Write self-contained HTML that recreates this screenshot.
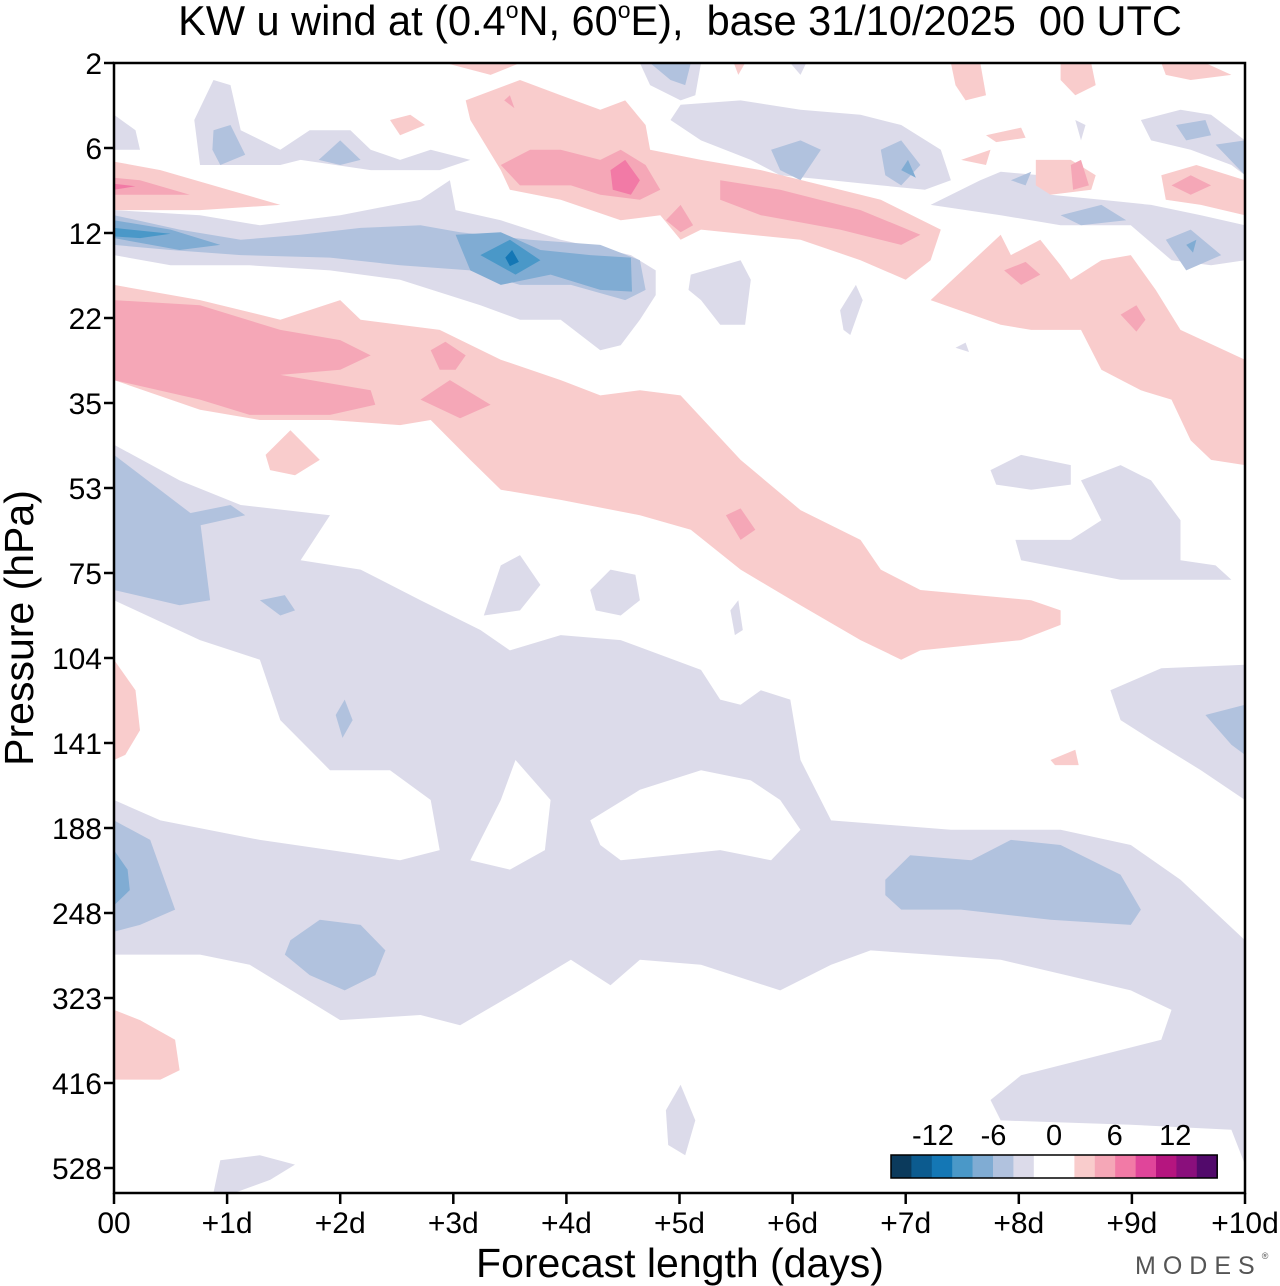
<!DOCTYPE html>
<html><head><meta charset="utf-8"><title>KW u wind</title>
<style>
html,body{margin:0;padding:0;background:#fff;}
svg{display:block;}
text{font-family:"Liberation Sans",Arial,sans-serif;}
</style></head>
<body>
<svg id="chart" width="1280" height="1286" viewBox="0 0 1280 1286" xmlns="http://www.w3.org/2000/svg">
<text x="680" y="35" font-size="41.5" text-anchor="middle" xml:space="preserve">KW u wind at (0.4<tspan font-size="23" dy="-17">o</tspan><tspan dy="17">N, 60</tspan><tspan font-size="23" dy="-17">o</tspan><tspan dy="17">E),  base 31/10/2025  00 UTC</tspan></text>
<g id="contours"></g>
<rect x="114" y="63" width="1131" height="1130" fill="none" stroke="#000" stroke-width="2.5"/>
<g id="yaxis"></g>
<g id="xaxis"></g>
<text transform="translate(33,628) rotate(-90)" font-size="41" text-anchor="middle">Pressure (hPa)</text>
<text x="680" y="1277" font-size="41" text-anchor="middle">Forecast length (days)</text>
<g id="cbar"></g>
<text x="1135" y="1274" font-size="25" fill="#555" letter-spacing="7">MODES<tspan font-size="9" dy="-15">®</tspan></text>
</svg>
<script>
// Axis data
const pressureTicks = ["2","6","12","22","35","53","75","104","141","188","248","323","416","528"];
const dayTicks = ["00","+1d","+2d","+3d","+4d","+5d","+6d","+7d","+8d","+9d","+10d"];
// Contour levels and colours
const cbarLabels = ["-12","-6","0","6","12"];
const cbarLabelValues = [-12,-6,0,6,12];
const cbarNegColors = ["#0b3a5c","#0c5b8f","#1477b5","#4a98c8","#80acd3","#b1c2de","#dcdbea"];
const cbarPosColors = ["#f9cccc","#f5a7b7","#f27aa6","#e0459a","#b5157f","#8a0f7c","#520a6b"];
// Contour polygons in data units: [day, pressure-level-index, ...]
const lev_m3 = [
 [0,4.49,.58,4.91,1.12,5.2,1.91,5.32,1.65,5.85,2.18,5.96,2.71,6.32,3.24,6.67,3.5,6.91,3.95,6.73,4.48,6.79,5.19,7.14,5.36,7.49,5.54,7.55,5.72,7.38,5.98,7.49,6.07,8.2,6.34,8.91,7.4,9.02,8.37,9.02,8.99,9.2,9.43,9.61,10,10.32,10,12.96,9.88,12.55,8.99,12.49,7.84,12.44,7.75,12.2,8.02,11.91,9.26,11.49,9.35,11.14,8.99,10.91,7.84,10.55,7.22,10.49,6.69,10.44,6.34,10.61,5.89,10.91,5.19,10.61,4.65,10.55,4.39,10.85,4.04,10.55,3.59,10.91,3.06,11.32,2.71,11.2,2,11.26,1.2,10.61,.76,10.49,0,10.49],
 [3.27,6.5,3.42,5.91,3.59,5.79,3.77,6.14,3.59,6.44],
 [4.21,6.2,4.39,5.96,4.61,6.02,4.65,6.32,4.48,6.5,4.26,6.44],
 [5.45,6.44,5.52,6.32,5.56,6.67,5.49,6.73],
 [7.75,4.79,8.02,4.61,8.46,4.73,8.46,4.96,8.11,5.02,7.8,4.96],
 [8.55,4.91,8.9,4.73,9.17,4.91,9.43,5.38,9.43,5.85,9.74,5.91,9.88,6.08,8.9,6.08,8.02,5.85,7.97,5.61,8.46,5.61,8.73,5.38,8.64,5.14],
 [8.81,7.38,9.26,7.12,10,7.08,10,8.67,9.61,8.32,9.17,7.96,8.9,7.73],
 [4.88,12.32,5.01,12.02,5.14,12.44,5.05,12.85,4.9,12.73],
 [.88,13.29,.94,12.91,1.29,12.85,1.6,12.96,1.38,13.14,1.07,13.29],
 [.71,.67,.88,.2,1.03,.26,1.12,.79,1.47,1.02,1.73,.79,2.09,.79,2.27,1.02,2.53,1.14,2.8,1.02,3.15,1.14,2.88,1.26,2.27,1.26,1.65,1.14,1.47,1.2,.76,1.2],
 [0,.61,.19,.79,.23,1.02,0,1.02],
 [4.92,.67,5.01,.49,5.54,.44,6.07,.55,6.6,.61,6.96,.73,7.31,1.02,7.4,1.38,7.17,1.49,6.78,1.44,6.34,1.38,5.89,1.32,5.63,1.14,5.19,.91],
 [4.65,0,5.19,0,5.14,.38,5.01,.44,4.74,.26],
 [7.22,1.67,7.66,1.38,7.84,1.28,8.19,1.32,8.28,1.55,8.73,1.61,9.17,1.67,9.61,1.79,10,1.91,10,2.32,9.7,2.38,9.35,2.32,8.99,1.91,8.37,1.91,7.84,1.79],
 [9.08,.67,9.43,.55,9.7,.61,10,.91,10,1.32,9.88,1.2,9.52,1.02,9.17,.91],
 [8.5,.67,8.59,.73,8.55,.91],
 [5.98,0,6.12,0,6.07,.14],
 [0,1.73,.76,1.79,1.29,1.91,2,1.79,2.71,1.61,2.97,1.38,3.02,1.73,3.42,1.85,3.95,2.08,4.57,2.26,4.79,2.44,4.79,2.73,4.65,3.02,4.48,3.32,4.3,3.38,3.95,3.02,3.59,3.02,3.24,2.85,2.53,2.55,1.91,2.44,1.2,2.38,.5,2.38,0,2.26],
 [5.08,2.67,5.1,2.49,5.54,2.32,5.63,2.55,5.58,3.08,5.36,3.08,5.19,2.79],
 [6.42,2.91,6.56,2.61,6.62,2.79,6.51,3.2,6.45,3.14],
 [7.44,3.35,7.53,3.29,7.56,3.4]
];
const lev_zeroHoles = [
 [0,6.32,.76,6.79,1.29,7.02,1.47,7.73,1.91,8.32,2.44,8.32,2.8,8.67,2.88,9.26,2.53,9.38,1.29,9.14,.41,8.91,0,8.67],
 [3.15,9.38,3.42,8.67,3.55,8.2,3.86,8.67,3.81,9.26,3.5,9.49],
 [4.21,8.91,4.65,8.55,5.19,8.32,5.63,8.44,5.89,8.67,6.07,9.02,5.81,9.38,5.36,9.26,4.48,9.38,4.3,9.2]
];
const lev_m6 = [
 [0,4.61,.76,5.38,.85,6.32,.58,6.38,0,6.2],
 [.58,5.32,1.03,5.2,1.16,5.32,.76,5.44],
 [1.29,6.32,1.51,6.26,1.6,6.44,1.47,6.5],
 [1.96,7.67,2.04,7.49,2.11,7.73,2.02,7.94],
 [0,8.91,.32,9.14,.54,9.96,.23,10.14,0,10.22],
 [1.56,10.32,1.82,10.08,2.18,10.14,2.4,10.44,2.31,10.73,2.04,10.91,1.73,10.73,1.51,10.49],
 [6.82,9.61,7.04,9.32,7.58,9.38,7.93,9.14,8.37,9.2,8.9,9.55,9.08,9.96,8.99,10.14,8.28,10.08,7.49,9.96,6.96,9.96,6.82,9.79],
 [9.65,7.67,10,7.55,10,8.14,9.88,8.02],
 [.88,.79,1.03,.73,1.16,1.08,.94,1.2,.87,1.02],
 [1.81,1.14,2,.91,2.18,1.14,2,1.2],
 [5.81,1.02,6.07,.91,6.25,1.02,6.07,1.38,5.89,1.26],
 [6.78,1.02,6.96,.91,7.13,1.2,6.96,1.44,6.82,1.32],
 [9.39,.73,9.65,.67,9.7,.85,9.48,.91],
 [9.74,.96,10,.91,10,1.32],
 [9.3,2.08,9.52,1.96,9.79,2.26,9.48,2.44],
 [7.93,1.38,8.11,1.28,8.06,1.44],
 [8.37,1.79,8.73,1.67,8.95,1.85,8.55,1.91],
 [4.74,0,5.1,0,5.05,.26,4.92,.2],
 [0,1.79,.58,1.96,1.12,2.08,1.65,2.02,2.18,1.94,2.71,1.91,3.06,1.99,3.68,2.08,4.3,2.14,4.65,2.32,4.7,2.67,4.52,2.79,4.04,2.61,3.59,2.61,3.15,2.44,2.53,2.38,1.91,2.29,1.12,2.26,.5,2.2,0,2.14]
];
const lev_m9 = [
 [0,1.85,.5,1.96,.94,2.14,.58,2.2,0,2.06],
 [3.15,2.44,3.02,2.02,3.42,1.99,3.77,2.2,4.21,2.26,4.57,2.29,4.58,2.69,4.3,2.67,3.86,2.49,3.42,2.61],
 [0,9.26,.12,9.49,.14,9.73,0,9.91],
 [9.48,2.14,9.57,2.08,9.54,2.23],
 [6.96,1.26,7.02,1.14,7.09,1.35]
];
const lev_m12 = [
 [3.24,2.26,3.5,2.08,3.77,2.32,3.55,2.49],
 [0,1.94,.5,2.01,.23,2.06,0,2.04]
];
const lev_m15 = [
 [3.46,2.29,3.52,2.2,3.58,2.34,3.5,2.39]
];
const lev_p3 = [
 [0,2.61,.76,2.79,1.47,3.02,2,2.79,2.18,3.02,2.88,3.14,3.42,3.49,3.95,3.73,4.3,3.91,4.65,3.85,5.01,3.91,5.54,4.67,6.07,5.26,6.6,5.61,6.78,5.96,7.13,6.2,8.11,6.32,8.37,6.44,8.37,6.61,8.02,6.79,7.13,6.91,6.96,7.02,6.6,6.79,6.07,6.38,5.54,5.96,5.1,5.49,4.65,5.32,3.95,5.14,3.42,5.02,3.15,4.67,2.8,4.2,2.53,4.26,1.91,4.2,1.29,4.2,.76,4.08,0,3.73],
 [1.34,4.61,1.56,4.32,1.82,4.67,1.6,4.85,1.38,4.79],
 [0,7.02,.19,7.38,.23,7.85,.1,8.14,0,8.2],
 [0,11.14,.23,11.26,.54,11.49,.58,11.85,.41,11.96,0,11.96],
 [8.28,8.2,8.5,8.08,8.53,8.26,8.32,8.26],
 [0,1.16,.41,1.26,1.47,1.67,.76,1.73,0,1.73],
 [3.11,.44,3.59,.2,3.95,.38,4.3,.55,4.52,.44,4.7,.73,4.74,1.02,5.19,1.14,5.72,1.26,6.78,1.61,7.31,1.96,7.22,2.32,7,2.55,6.6,2.32,6.07,2.08,5.19,1.96,5.01,2.08,4.83,1.79,4.48,1.85,3.95,1.61,3.5,1.49,3.42,1.26,3.15,.67],
 [2.93,0,3.59,0,3.33,.14],
 [5.48,0,5.58,0,5.52,.14],
 [7.4,0,7.66,0,7.71,.38,7.53,.44,7.44,.26],
 [8.37,0,8.64,0,8.68,.26,8.5,.38,8.37,.2],
 [9.26,0,9.65,0,9.88,.14,9.52,.2,9.3,.14],
 [2.44,.67,2.62,.61,2.75,.73,2.53,.85],
 [7.49,1.14,7.75,1.02,7.71,1.2],
 [7.71,.85,8.02,.76,8.06,.88,7.8,.93],
 [8.15,1.14,8.46,1.14,8.68,1.32,8.64,1.49,8.28,1.55,8.15,1.44],
 [9.26,1.32,9.57,1.2,10,1.38,10,1.79,9.61,1.67,9.3,1.61],
 [7.22,2.79,7.84,2.02,7.93,2.26,8.19,2.08,8.37,2.38,8.46,2.55,8.73,2.32,8.99,2.26,9.21,2.67,9.43,3.14,10,3.49,10,4.73,9.7,4.67,9.52,4.44,9.35,3.96,9.08,3.85,8.73,3.61,8.55,3.14,8.11,3.14,7.84,3.08]
];
const lev_p6 = [
 [0,2.79,.76,2.85,1.47,3.14,2,3.26,2.27,3.44,2,3.61,1.47,3.67,2.27,3.85,2.31,4.02,1.91,4.14,1.2,4.14,.76,3.96,0,3.73],
 [2.71,3.96,2.97,3.73,3.33,4.02,3.06,4.18],
 [2.8,3.38,2.93,3.28,3.11,3.44,3.02,3.61,2.88,3.61],
 [5.41,5.32,5.54,5.24,5.67,5.49,5.54,5.61],
 [0,1.35,.23,1.38,.67,1.55,0,1.55],
 [3.42,1.2,3.68,1.02,3.95,1.02,4.3,1.14,4.48,1.02,4.7,1.2,4.83,1.49,4.65,1.61,4.3,1.55,4.04,1.44,3.59,1.44],
 [5.36,1.61,5.36,1.38,5.89,1.49,6.6,1.73,7.13,2.02,6.96,2.14,6.42,1.96,5.72,1.79],
 [7.87,2.44,8.06,2.34,8.19,2.49,8.02,2.61],
 [8.9,2.96,9.04,2.85,9.12,3.02,9.04,3.16],
 [4.88,1.85,5.01,1.67,5.12,1.91,5.01,1.99],
 [8.46,1.2,8.55,1.14,8.62,1.44,8.48,1.49],
 [9.35,1.44,9.52,1.32,9.7,1.44,9.52,1.55],
 [3.45,.44,3.5,.38,3.54,.53]
];
const lev_p9 = [
 [0,1.42,.19,1.45,0,1.49],
 [4.39,1.26,4.52,1.14,4.65,1.38,4.57,1.55,4.41,1.49]
];

const NS = "http://www.w3.org/2000/svg";
const X0 = 114, X1 = 1245, Y0 = 63, Y1 = 1193;
function xScale(d){ return X0 + d * (X1 - X0) / 10; }
function yScale(l){ return Y0 + l * 85; }

const gC = document.getElementById('contours');
function drawLevel(polys, color, name){
  polys.forEach(function(p){
    const pts = [];
    for (let i = 0; i < p.length; i += 2) pts.push(xScale(p[i]).toFixed(1) + ',' + yScale(p[i+1]).toFixed(1));
    const el = document.createElementNS(NS, 'polygon');
    el.setAttribute('points', pts.join(' '));
    el.setAttribute('fill', color);
    
    
    gC.appendChild(el);
  });
}
drawLevel(lev_m3, cbarNegColors[6], 'contour-minus3');
drawLevel(lev_zeroHoles, '#ffffff', 'contour-zero-gap');
drawLevel(lev_m6, cbarNegColors[5], 'contour-minus6');
drawLevel(lev_m9, cbarNegColors[4], 'contour-minus9');
drawLevel(lev_m12, cbarNegColors[3], 'contour-minus12');
drawLevel(lev_m15, cbarNegColors[2], 'contour-minus15');
drawLevel(lev_p3, cbarPosColors[0], 'contour-plus3');
drawLevel(lev_p6, cbarPosColors[1], 'contour-plus6');
drawLevel(lev_p9, cbarPosColors[2], 'contour-plus9');

// Y axis
const gY = document.getElementById('yaxis');
pressureTicks.forEach(function(t, i){
  const y = yScale(i);
  const ln = document.createElementNS(NS, 'line');
  ln.setAttribute('x1', 104); ln.setAttribute('x2', 114);
  ln.setAttribute('y1', y); ln.setAttribute('y2', y);
  ln.setAttribute('stroke', '#000'); ln.setAttribute('stroke-width', '2.5');
  
  
  gY.appendChild(ln);
  const tx = document.createElementNS(NS, 'text');
  tx.setAttribute('x', 102); tx.setAttribute('y', y + 11);
  tx.setAttribute('font-size', '30'); tx.setAttribute('text-anchor', 'end');
  tx.textContent = t;
  
  
  gY.appendChild(tx);
});
// X axis
const gX = document.getElementById('xaxis');
dayTicks.forEach(function(t, i){
  const x = xScale(i);
  const ln = document.createElementNS(NS, 'line');
  ln.setAttribute('x1', x); ln.setAttribute('x2', x);
  ln.setAttribute('y1', 1193); ln.setAttribute('y2', 1204);
  ln.setAttribute('stroke', '#000'); ln.setAttribute('stroke-width', '2.5');
  
  
  gX.appendChild(ln);
  const tx = document.createElementNS(NS, 'text');
  tx.setAttribute('x', x); tx.setAttribute('y', 1233);
  tx.setAttribute('font-size', '30'); tx.setAttribute('text-anchor', 'middle');
  tx.textContent = t;
  
  
  gX.appendChild(tx);
});
// Colorbar
const gB = document.getElementById('cbar');
const cbX0 = 891, cbY = 1155, cbH = 23, boxW = 20.4, whiteW = 40.6;
function cbBox(x, w, c){
  const r = document.createElementNS(NS, 'rect');
  r.setAttribute('x', x); r.setAttribute('y', cbY); r.setAttribute('width', w + 0.3); r.setAttribute('height', cbH);
  r.setAttribute('fill', c);
  
  
  gB.appendChild(r);
}
cbarNegColors.forEach(function(c, i){ cbBox(cbX0 + i * boxW, boxW, c); });
cbBox(cbX0 + 7 * boxW, whiteW, '#ffffff');
cbarPosColors.forEach(function(c, i){ cbBox(cbX0 + 7 * boxW + whiteW + i * boxW, boxW, c); });
const cbW = 14 * boxW + whiteW;
const fr = document.createElementNS(NS, 'rect');
fr.setAttribute('x', cbX0); fr.setAttribute('y', cbY); fr.setAttribute('width', cbW); fr.setAttribute('height', cbH);
fr.setAttribute('fill', 'none'); fr.setAttribute('stroke', '#000'); fr.setAttribute('stroke-width', '1.5');


gB.appendChild(fr);
const zeroX = cbX0 + 7 * boxW + whiteW / 2;
cbarLabels.forEach(function(t, i){
  const tx = document.createElementNS(NS, 'text');
  tx.setAttribute('x', zeroX + cbarLabelValues[i] * 10.1);
  tx.setAttribute('y', 1145);
  tx.setAttribute('font-size', '29'); tx.setAttribute('text-anchor', 'middle');
  tx.textContent = t;
  
  
  gB.appendChild(tx);
});
</script>
</body></html>
